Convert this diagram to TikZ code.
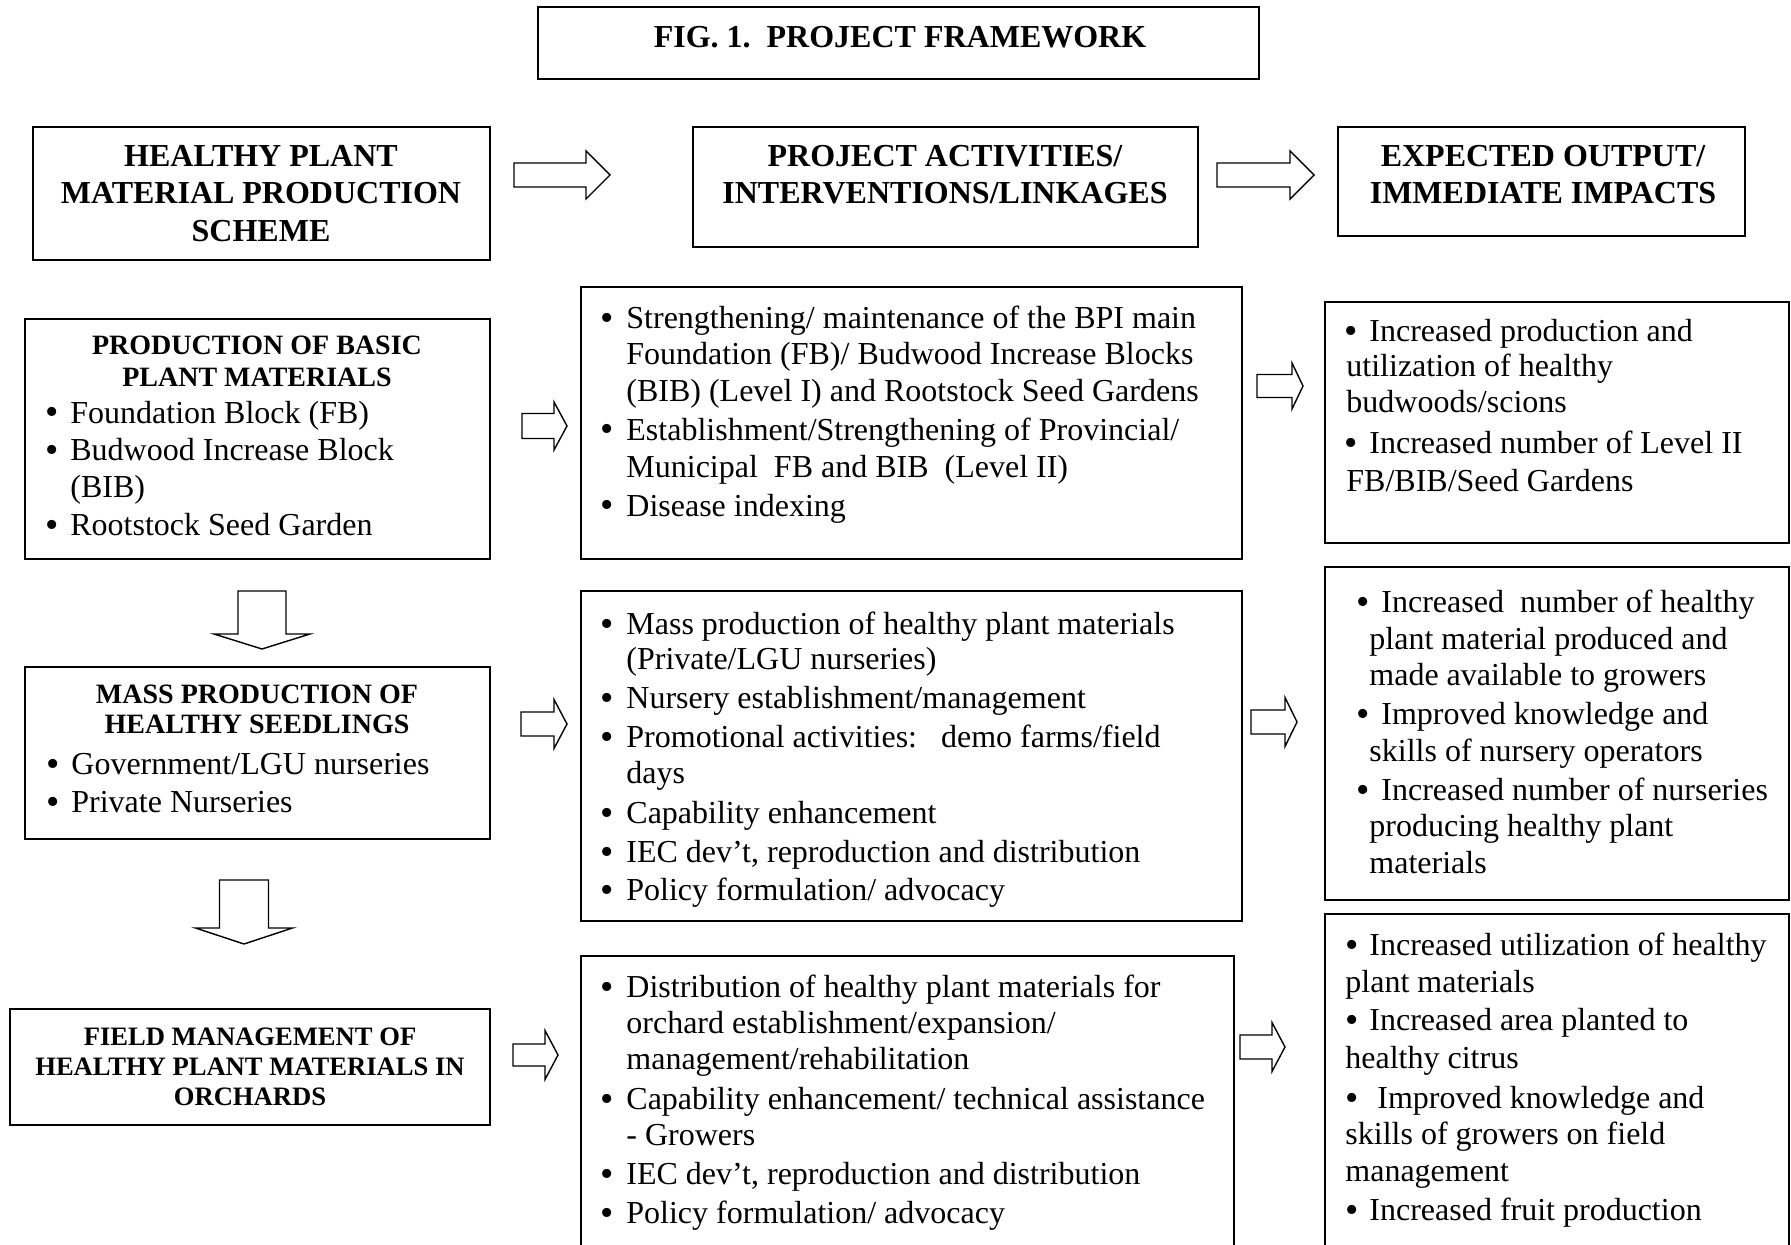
\documentclass[tikz,border=0pt]{standalone}
\usepackage{fontspec}
\setmainfont{Liberation Serif}
\newcommand{\mybody}{\fontsize{16pt}{19pt}\selectfont}
\newcommand{\myhead}{\fontsize{16pt}{19pt}\selectfont\bfseries}
\newcommand{\mysub}{\fontsize{14pt}{16pt}\selectfont\bfseries}
\newcommand{\myfield}{\fontsize{13.3pt}{15pt}\selectfont\bfseries}
\newcommand{\bul}[1]{\makebox[#1][l]{\smash{\raisebox{-1pt}{\fontsize{19pt}{0pt}\selectfont\textbullet}}}}
\newcommand{\myrarrow}[6]{\draw[blk] (#1,#4-#5) -- (#2,#4-#5) -- (#2,#4-#6) -- (#3,#4) -- (#2,#4+#6) -- (#2,#4+#5) -- (#1,#4+#5) -- cycle;}
\newcommand{\mydarrow}[6]{\draw[blk] (#1-#2,#4) -- (#1+#2,#4) -- (#1+#2,#5) -- (#1+#3,#5) -- (#1,#6) -- (#1-#3,#5) -- (#1-#2,#5) -- cycle;}
\tikzset{
  box/.style={draw, line width=1pt, inner sep=0pt, outer sep=0pt, anchor=north west},
  blk/.style={draw, line width=0.7pt, fill=white, line join=miter},
  ln/.style={anchor=base west, inner sep=0pt, font=\mybody},
  hd/.style={anchor=base, inner sep=0pt, font=\myhead},
  sub/.style={anchor=base, inner sep=0pt, font=\mysub},
  fld/.style={anchor=base, inner sep=0pt, font=\myfield}
}
\begin{document}
\begin{tikzpicture}[x=0.5pt, y=-0.5pt]
\useasboundingbox (0,0) rectangle (1791,1245);
\fill[white] (0,0) rectangle (1791,1245);
\clip (0,0) rectangle (1791,1245);

% ---------- boxes ----------
\node[box, minimum width=360.5pt, minimum height=36pt] (title) at (538,7) {};
\node[box, minimum width=228.5pt, minimum height=66.5pt] (a0) at (33,127) {};
\node[box, minimum width=252.5pt, minimum height=60pt] (b0) at (693,127) {};
\node[box, minimum width=203.5pt, minimum height=54.5pt] (c0) at (1338,127) {};
\node[box, minimum width=232.5pt, minimum height=120pt] (a1) at (25,319) {};
\node[box, minimum width=330.5pt, minimum height=136pt] (b1) at (581,287) {};
\node[box, minimum width=232pt, minimum height=120.5pt] (c1) at (1325,302) {};
\node[box, minimum width=232.5pt, minimum height=86pt] (a2) at (25,667) {};
\node[box, minimum width=330.5pt, minimum height=165pt] (b2) at (581,591) {};
\node[box, minimum width=232pt, minimum height=166.5pt] (c2) at (1325,567) {};
\node[box, minimum width=240pt, minimum height=58pt] (a3) at (10,1009) {};
\node[box, minimum width=326.5pt, minimum height=153pt] (b3) at (581,956) {};
\node[box, minimum width=232pt, minimum height=174pt] (c3) at (1325,914) {};

% ---------- block arrows ----------
\myrarrow{514}{586}{610}{175}{12}{24}
\myrarrow{1217}{1290}{1314}{175}{12}{24}
\myrarrow{522}{554}{567}{426}{12.5}{24}
\myrarrow{1257}{1292}{1303}{386}{11.5}{23}
\myrarrow{521}{554}{567}{724}{12}{24.5}
\myrarrow{1251}{1285}{1297}{722}{12}{24.5}
\myrarrow{513}{545}{558}{1055}{11}{24.5}
\myrarrow{1240}{1272}{1285}{1047}{12}{24.5}
\mydarrow{262}{24}{48}{591}{634}{649}
\mydarrow{244}{24.5}{48.5}{880}{928}{944}

% ---------- title and headers ----------
\node[hd] (tt) at (900,48) {FIG. 1.\ \ PROJECT FRAMEWORK};
\node[hd] (a0t1) at (261,167) {HEALTHY PLANT};
\node[hd] (a0t2) at (261,204) {MATERIAL PRODUCTION};
\node[hd] (a0t3) at (261,242) {SCHEME};
\node[hd] (b0t1) at (945,167) {PROJECT ACTIVITIES/};
\node[hd] (b0t2) at (945,204) {INTERVENTIONS/LINKAGES};
\node[hd] (c0t1) at (1543,167) {EXPECTED OUTPUT/};
\node[hd] (c0t2) at (1543,204) {IMMEDIATE IMPACTS};

% ---------- row 1 ----------
\node[sub] (a1h1) at (257,355) {PRODUCTION OF BASIC};
\node[sub] (a1h2) at (257,387) {PLANT MATERIALS};
\node[ln] (a1l1) at (45,423) {\bul{12.5pt}Foundation Block (FB)};
\node[ln] (a1l2) at (45,460) {\bul{12.5pt}Budwood Increase Block};
\node[ln] (a1l3) at (70,497) {(BIB)};
\node[ln] (a1l4) at (45,535) {\bul{12.5pt}Rootstock Seed Garden};

\node[ln] (b1l1) at (600,329) {\bul{13pt}Strengthening/ maintenance of the BPI main};
\node[ln] (b1l2) at (626,365) {Foundation (FB)/ Budwood Increase Blocks};
\node[ln] (b1l3) at (626,401) {(BIB) (Level I) and Rootstock Seed Gardens};
\node[ln] (b1l4) at (600,440) {\bul{13pt}Establishment/Strengthening of Provincial/};
\node[ln] (b1l5) at (626,477) {Municipal\ \ FB and BIB\ \ (Level II)};
\node[ln] (b1l6) at (600,516) {\bul{13pt}Disease indexing};

\node[ln] (c1l1) at (1344,342) {\bul{12.5pt}Increased production and};
\node[ln] (c1l2) at (1346,377) {utilization of healthy};
\node[ln] (c1l3) at (1346,413) {budwoods/scions};
\node[ln] (c1l4) at (1344,453) {\bul{12.5pt}Increased number of Level II};
\node[ln] (c1l5) at (1346,491) {FB/BIB/Seed Gardens};

% ---------- row 2 ----------
\node[sub] (a2h1) at (257,703) {MASS PRODUCTION OF};
\node[sub] (a2h2) at (257,733) {HEALTHY SEEDLINGS};
\node[ln] (a2l1) at (46,774) {\bul{12.5pt}Government/LGU nurseries};
\node[ln] (a2l2) at (46,812) {\bul{12.5pt}Private Nurseries};

\node[ln] (b2l1) at (600,634) {\bul{13pt}Mass production of healthy plant materials};
\node[ln] (b2l2) at (626,669) {(Private/LGU nurseries)};
\node[ln] (b2l3) at (600,708) {\bul{13pt}Nursery establishment/management};
\node[ln] (b2l4) at (600,747) {\bul{13pt}Promotional activities:\ \ \ demo farms/field};
\node[ln] (b2l5) at (626,783) {days};
\node[ln] (b2l6) at (600,823) {\bul{13pt}Capability enhancement};
\node[ln] (b2l7) at (600,862) {\bul{13pt}IEC dev’t, reproduction and distribution};
\node[ln] (b2l8) at (600,900) {\bul{13pt}Policy formulation/ advocacy};

\node[ln] (c2l1) at (1356,612) {\bul{12.5pt}Increased\ \ number of healthy};
\node[ln] (c2l2) at (1369,649) {plant material produced and};
\node[ln] (c2l3) at (1369,685) {made available to growers};
\node[ln] (c2l4) at (1356,724) {\bul{12.5pt}Improved knowledge and};
\node[ln] (c2l5) at (1369,761) {skills of nursery operators};
\node[ln] (c2l6) at (1356,800) {\bul{12.5pt}Increased number of nurseries};
\node[ln] (c2l7) at (1369,836) {producing healthy plant};
\node[ln] (c2l8) at (1369,873) {materials};

% ---------- row 3 ----------
\node[fld] (a3h1) at (250,1045) {FIELD MANAGEMENT OF};
\node[fld] (a3h2) at (250,1075) {HEALTHY PLANT MATERIALS IN};
\node[fld] (a3h3) at (250,1105) {ORCHARDS};

\node[ln] (b3l1) at (600,997) {\bul{13pt}Distribution of healthy plant materials for};
\node[ln] (b3l2) at (626,1033) {orchard establishment/expansion/};
\node[ln] (b3l3) at (626,1069) {management/rehabilitation};
\node[ln] (b3l4) at (600,1109) {\bul{13pt}Capability enhancement/ technical assistance};
\node[ln] (b3l5) at (626,1145) {- Growers};
\node[ln] (b3l6) at (600,1184) {\bul{13pt}IEC dev’t, reproduction and distribution};
\node[ln] (b3l7) at (600,1223) {\bul{13pt}Policy formulation/ advocacy};

\node[ln] (c3l1) at (1345,955) {\bul{12pt}Increased utilization of healthy};
\node[ln] (c3l2) at (1345,992) {plant materials};
\node[ln] (c3l3) at (1345,1030) {\bul{12pt}Increased area planted to};
\node[ln] (c3l4) at (1345,1068) {healthy citrus};
\node[ln] (c3l5) at (1345,1108) {\bul{16pt}Improved knowledge and};
\node[ln] (c3l6) at (1345,1144) {skills of growers on field};
\node[ln] (c3l7) at (1345,1181) {management};
\node[ln] (c3l8) at (1345,1220) {\bul{12pt}Increased fruit production};
\end{tikzpicture}
\end{document}
